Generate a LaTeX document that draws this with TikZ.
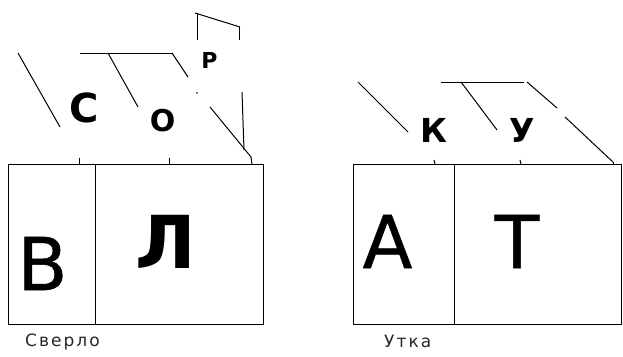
\documentclass[tikz,border=0pt]{standalone}
\usepackage{fontspec}
\setmainfont{DejaVu Sans}
\newfontfamily\widefont[LetterSpace=12]{DejaVu Sans}
\newfontfamily\heavyfont[FakeBold=0.6]{DejaVu Sans}
\begin{document}
\begin{tikzpicture}[x=1pt,y=-1pt,
  cell/.style={draw,line width=1.2pt,minimum width=#1,minimum height=160pt,inner sep=0,anchor=north west},
  big/.style={inner sep=0,font=\fontsize{73}{73}\heavyfont},
  bigb/.style={inner sep=0,font=\fontsize{73}{73}\selectfont\bfseries},
  top/.style={inner sep=0,font=\fontsize{#1}{#1}\selectfont\bfseries},
  stroke/.style={line width=1pt},
  caption/.style={inner sep=0,anchor=base west,font=\fontsize{17}{17}\widefont,text=black!85}]
\useasboundingbox (0,0) rectangle (623,356);
% boxes
\node[cell=87pt] (cB) at (8,164) {};
\node[cell=168pt] (cL) at (95,164) {};
\node[cell=101pt] (cA) at (353,164) {};
\node[cell=167pt] (cT) at (454,164) {};
% big letters
\node[big] (B) at (42.5,263.5) {В};
\node[bigb] (L) at (166,241.5) {Л};
\node[big] (A) at (387.5,241.5) {А};
\node[big] (T) at (517,241.5) {Т};
% top letters
\node[top=40] (S) at (84.5,108) {С};
\node[top=30] (O) at (162.5,121) {О};
\node[top=22] (R) at (209.5,60) {Р};
\node[top=33] (K) at (433.5,130) {К};
\node[top=33] (U) at (522.5,130) {У};
% captions
\node[caption] (cap1) at (25,346) {Сверло};
\node[caption] (cap2) at (384,347.5) {Утка};
% strokes left
\draw[stroke] (18,53) -- (60,127);
\draw[stroke] (80,53) -- (172,53);
\draw[stroke] (108,53) -- (138,107);
\draw[stroke] (172,53) -- (188,77);
\fill (197,93) circle (0.9);
\draw[stroke] (210,107) -- (251,157);
\draw[stroke] (242,92) -- (244,150);
\draw[stroke] (195,13) -- (240,27);
\draw[stroke] (197,13) -- (197,40);
\draw[stroke] (239,27) -- (239,40);
\draw[stroke] (79,158) -- (79,164);
\draw[stroke] (169,158) -- (169,164);
\draw[stroke] (251,157) -- (252,164);
% strokes right
\draw[stroke] (358,82) -- (408,132);
\draw[stroke] (441,82) -- (524,82);
\draw[stroke] (461,82) -- (497,130);
\draw[stroke] (527,82) -- (557,108);
\draw[stroke] (565,117) -- (613,162);
\draw[stroke] (434,160) -- (435,164);
\draw[stroke] (520,160) -- (521,164);
\draw[stroke] (613,162) -- (613,164);
\end{tikzpicture}
\end{document}
